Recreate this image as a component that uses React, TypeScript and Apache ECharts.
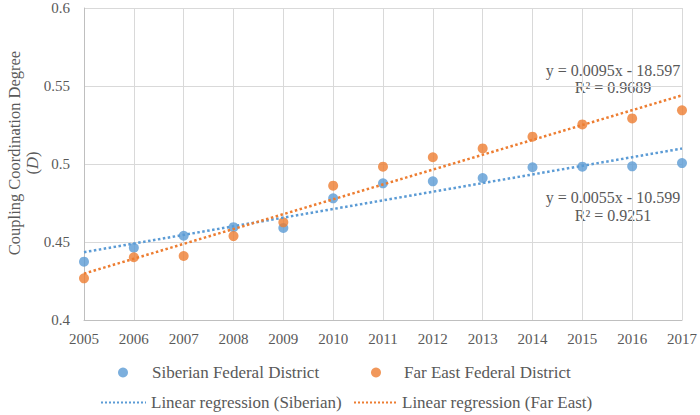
import React, { useEffect, useRef } from "react";
import * as echarts from "echarts";

const years = [2005, 2006, 2007, 2008, 2009, 2010, 2011, 2012, 2013, 2014, 2015, 2016, 2017];
const siberian = [0.4374, 0.4463, 0.454, 0.4595, 0.459, 0.478, 0.4876, 0.4889, 0.491, 0.4979, 0.4983, 0.4985, 0.5006];
const farEast = [0.4267, 0.4402, 0.441, 0.4538, 0.4626, 0.4861, 0.4983, 0.5043, 0.51, 0.5175, 0.5254, 0.5292, 0.5344];
const seriesNames = [
  "Siberian Federal District",
  "Far East Federal District",
  "Linear regression (Siberian)",
  "Linear regression (Far East)",
];
const eqSiberian = ["y = 0.0055x - 10.599", "R² = 0.9251"];
const eqFarEast = ["y = 0.0095x - 18.597", "R² = 0.9689"];

const BLUE = "#5B9BD5";
const ORANGE = "#ED7D31";
const TEXT = "#595959";
const FONT = "'Liberation Serif', 'Times New Roman', serif";

function fit(xs: number[], ys: number[]) {
  const n = xs.length;
  const mx = xs.reduce((a, b) => a + b, 0) / n;
  const my = ys.reduce((a, b) => a + b, 0) / n;
  let sxy = 0;
  let sxx = 0;
  for (let i = 0; i < n; i++) {
    sxy += (xs[i] - mx) * (ys[i] - my);
    sxx += (xs[i] - mx) * (xs[i] - mx);
  }
  const slope = sxy / sxx;
  const b = my - slope * mx;
  const x0 = xs[0];
  const x1 = xs[n - 1];
  return [
    [x0, slope * x0 + b],
    [x1, slope * x1 + b],
  ];
}

export default function App() {
  const ref = useRef<HTMLDivElement>(null);
  useEffect(() => {
    document.body.style.margin = "0";
    if (!ref.current) return;
    const chart = echarts.init(ref.current, null, { renderer: "svg" });
    const legendText = { fontFamily: FONT, fontSize: 17, color: TEXT };
    const eqStyle = (text: string, x: number, y: number) => ({
      type: "text",
      x,
      y,
      style: {
        text,
        fontFamily: FONT,
        fontSize: 16,
        fill: TEXT,
        align: "center",
        verticalAlign: "middle",
      },
    });
    chart.setOption({
      animation: false,
      grid: { left: 84, right: 17, top: 8, bottom: 95, containLabel: false },
      xAxis: {
        type: "value",
        min: 2005,
        max: 2017,
        interval: 1,
        axisLine: { show: true, lineStyle: { color: "#BFBFBF", width: 1 } },
        axisTick: { show: false },
        splitLine: { show: true, lineStyle: { color: "#D9D9D9", width: 1 } },
        axisLabel: {
          fontFamily: FONT,
          fontSize: 15,
          color: TEXT,
          margin: 11,
          formatter: (v: number) => String(v),
        },
      },
      yAxis: {
        type: "value",
        min: 0.4,
        max: 0.6,
        interval: 0.05,
        axisLine: { show: true, lineStyle: { color: "#BFBFBF", width: 1 } },
        axisTick: { show: false },
        splitLine: { show: true, lineStyle: { color: "#D9D9D9", width: 1 } },
        axisLabel: {
          fontFamily: FONT,
          fontSize: 15,
          color: TEXT,
          margin: 14,
          formatter: (v: number) => String(Math.round(v * 100) / 100),
        },
      },
      legend: [
        {
          data: [seriesNames[0]],
          left: 118,
          top: 364,
          padding: 0,
          itemWidth: 48,
          itemHeight: 10,
          textStyle: legendText,
        },
        {
          data: [seriesNames[1]],
          left: 371,
          top: 364,
          padding: 0,
          itemWidth: 46,
          itemHeight: 10,
          textStyle: legendText,
        },
        {
          data: [seriesNames[2]],
          left: 100,
          top: 394,
          padding: 0,
          itemWidth: 45,
          itemHeight: 10,
          itemStyle: { opacity: 0 },
          textStyle: legendText,
        },
        {
          data: [seriesNames[3]],
          left: 353,
          top: 394,
          padding: 0,
          itemWidth: 43,
          itemHeight: 10,
          itemStyle: { opacity: 0 },
          textStyle: legendText,
        },
      ],
      graphic: [
        {
          type: "text",
          x: 14,
          y: 153,
          rotation: Math.PI / 2,
          style: {
            text: "Coupling Coordination Degree",
            fontFamily: FONT,
            fontSize: 16.5,
            fill: TEXT,
            align: "center",
            verticalAlign: "middle",
          },
        },
        {
          type: "text",
          x: 32,
          y: 163,
          rotation: Math.PI / 2,
          style: {
            text: "{n|(}{i|D}{n|)}",
            fill: TEXT,
            align: "center",
            verticalAlign: "middle",
            rich: {
              n: { fontFamily: FONT, fontSize: 16.5, fill: TEXT },
              i: { fontFamily: FONT, fontSize: 16.5, fill: TEXT, fontStyle: "italic" },
            },
          },
        },
        eqStyle(eqFarEast[0], 613, 70),
        eqStyle(eqFarEast[1], 613, 87),
        eqStyle(eqSiberian[0], 613, 197),
        eqStyle(eqSiberian[1], 613, 215),
      ],
      series: [
        {
          name: seriesNames[0],
          type: "scatter",
          symbol: "circle",
          symbolSize: 10,
          itemStyle: { color: BLUE },
          data: years.map((y, i) => [y, siberian[i]]),
          z: 3,
        },
        {
          name: seriesNames[1],
          type: "scatter",
          symbol: "circle",
          symbolSize: 10,
          itemStyle: { color: ORANGE },
          data: years.map((y, i) => [y, farEast[i]]),
          z: 3,
        },
        {
          name: seriesNames[2],
          type: "line",
          symbol: "none",
          lineStyle: { color: BLUE, width: 2.5, type: "dotted" },
          itemStyle: { color: BLUE },
          data: fit(years, siberian),
          z: 4,
        },
        {
          name: seriesNames[3],
          type: "line",
          symbol: "none",
          lineStyle: { color: ORANGE, width: 2.5, type: "dotted" },
          itemStyle: { color: ORANGE },
          data: fit(years, farEast),
          z: 4,
        },
      ],
    });
    return () => chart.dispose();
  }, []);
  return <div ref={ref} style={{ width: 700, height: 415 }} />;
}
